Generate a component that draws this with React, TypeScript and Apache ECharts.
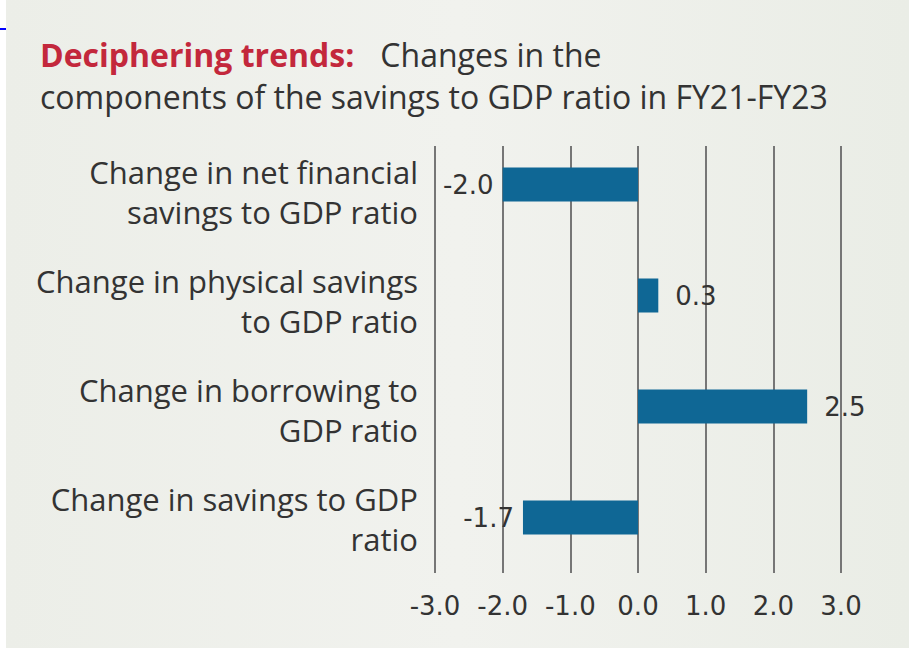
import React, { useEffect, useRef } from "react";
import * as echarts from "echarts";

const categories = [
  "Change in net financial\nsavings to GDP ratio",
  "Change in physical savings\nto GDP ratio",
  "Change in borrowing to\nGDP ratio",
  "Change in savings to GDP\nratio",
];
const values = [-2.0, 0.3, 2.5, -1.7];
const axisMin = -3;
const axisMax = 3;
const axisStep = 1;

const FONT = "Open Sans";
const NUM_FONT = "DejaVu Sans";

export default function App() {
  const ref = useRef<HTMLDivElement>(null);
  useEffect(() => {
    const chart = echarts.init(ref.current!, null, { renderer: "svg" });
    const option = {
      animation: false,
      backgroundColor: "#ffffff",
      textStyle: { fontFamily: FONT },
      graphic: [
        {
          type: "rect",
          z: -10,
          shape: { x: 6, y: 0, width: 903, height: 648 },
          style: {
            fill: {
              type: "linear",
              x: 0,
              y: 0,
              x2: 1,
              y2: 0,
              colorStops: [
                { offset: 0, color: "#eceee8" },
                { offset: 0.5, color: "#f1f2ee" },
                { offset: 1, color: "#eaede6" },
              ],
            },
          },
          silent: true,
        },
        {
          type: "line",
          z: 10,
          shape: { x1: 0, y1: 29, x2: 6, y2: 29 },
          style: { stroke: "#0000ff", lineWidth: 2 },
          silent: true,
        },
      ],
      title: {
        left: 40,
        top: 33,
        padding: 0,
        text:
          "{a|Deciphering trends:}{g|}{b|Changes in the}\n{b|components of the savings to GDP ratio in FY21-FY23}",
        textStyle: {
          rich: {
            a: {
              fontFamily: FONT,
              fontSize: 32,
              fontWeight: "bold",
              color: "#c3283c",
              lineHeight: 42,
            },
            g: { width: 26, lineHeight: 42 },
            b: {
              fontFamily: FONT,
              fontSize: 32,
              fontWeight: "normal",
              color: "#333333",
              lineHeight: 42,
            },
          },
        },
      },
      grid: [
        { left: 435, width: 406, top: 129, height: 444 },
        { left: 435, width: 406, top: 146, height: 427 },
        { left: 435, width: 406, top: 138, height: 435 },
      ],
      xAxis: [
        {
          gridIndex: 0,
          type: "value",
          min: axisMin,
          max: axisMax,
          interval: axisStep,
          show: false,
        },
        {
          gridIndex: 1,
          type: "value",
          min: axisMin,
          max: axisMax,
          interval: axisStep,
          axisLine: { show: false },
          axisTick: { show: false },
          splitLine: { show: true, lineStyle: { color: "#767676", width: 2 } },
          axisLabel: {
            margin: 20,
            fontSize: 26,
            color: "#333333",
            fontFamily: NUM_FONT,
            formatter: (v: number) => v.toFixed(1),
          },
        },
        {
          gridIndex: 2,
          type: "value",
          min: axisMin,
          max: axisMax,
          show: false,
        },
      ],
      yAxis: [
        {
          gridIndex: 0,
          type: "category",
          data: categories,
          inverse: true,
          show: false,
        },
        {
          gridIndex: 1,
          type: "value",
          show: false,
        },
        {
          gridIndex: 2,
          type: "category",
          data: categories,
          inverse: true,
          axisLine: { show: false },
          axisTick: { show: false },
          splitLine: { show: false },
          axisLabel: {
            margin: 17,
            fontSize: 31,
            lineHeight: 40,
            color: "#333333",
            fontFamily: FONT,
            align: "right",
          },
        },
      ],
      series: [
        {
          type: "bar",
          xAxisIndex: 0,
          yAxisIndex: 0,
          barWidth: 34,
          itemStyle: { color: "#0f6795" },
          data: values.map((v) => ({
            value: v,
            label: {
              position: v < 0 ? "left" : "right",
              distance: v < 0 ? 9 : 17,
            },
          })),
          label: {
            show: true,
            fontSize: 26,
            color: "#333333",
            fontFamily: NUM_FONT,
            formatter: (p: any) => Number(p.value).toFixed(1),
          },
          z: 3,
        },
      ],
    };
    chart.setOption(option as any);
    return () => chart.dispose();
  }, []);
  return (
    <div
      ref={ref}
      style={{ position: "fixed", left: 0, top: 0, width: 915, height: 652 }}
    />
  );
}
